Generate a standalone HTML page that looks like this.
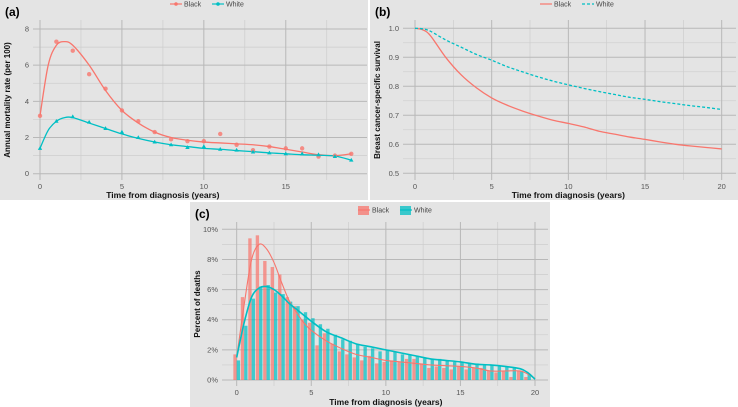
<!DOCTYPE html>
<html><head><meta charset="utf-8"><style>
body{margin:0;background:#fff;width:738px;height:407px;overflow:hidden;font-family:"Liberation Sans",sans-serif}
svg{position:absolute;left:0;top:0}
</style></head><body>
<svg id="s" width="738" height="407"></svg>
<script>
// ---- Panel (a) data
const aYears=[0,1,2,3,4,5,6,7,8,9,10,11,12,13,14,15,16,17,18,19];
const aBlackPts=[3.2,7.3,6.8,5.5,4.7,3.5,2.9,2.3,1.9,1.8,1.8,2.2,1.6,1.3,1.5,1.4,1.4,0.95,1.0,1.1];
const aWhitePts=[1.4,2.9,3.15,2.85,2.5,2.3,2.0,1.75,1.6,1.45,1.5,1.35,1.3,1.2,1.15,1.1,1.1,1.05,0.95,0.75];
const aFitX=[0,0.5,1,1.5,2,3,4,5,6,7,8,9,10,11,12,13,14,15,16,17,18,19];
const aBlackFit=[3.2,6.0,7.1,7.3,7.1,6.0,4.6,3.5,2.8,2.3,2.0,1.85,1.75,1.7,1.65,1.6,1.5,1.35,1.2,1.05,1.0,1.1];
const aWhiteFit=[1.4,2.4,2.9,3.1,3.1,2.8,2.5,2.2,1.95,1.75,1.6,1.5,1.4,1.35,1.28,1.22,1.15,1.1,1.05,1.02,0.98,0.75];
const aXTicks=[0,5,10,15];
const aYTicks=[0,2,4,6,8];
// ---- Panel (b) data
const bYears=[0,0.5,1,2,3,4,5,6,7,8,9,10,11,12,13,14,15,16,17,18,19,20];
const bBlack=[1,0.995,0.975,0.9,0.84,0.795,0.76,0.735,0.715,0.698,0.683,0.672,0.66,0.645,0.635,0.625,0.617,0.608,0.6,0.594,0.589,0.584];
const bWhite=[1,0.998,0.99,0.96,0.935,0.91,0.89,0.868,0.85,0.833,0.818,0.805,0.793,0.782,0.772,0.762,0.755,0.747,0.74,0.733,0.727,0.72];
const bXTicks=[0,5,10,15,20];
const bYTicks=[0.5,0.6,0.7,0.8,0.9,1.0];
// ---- Panel (c) data
const cBins=[0,0.5,1,1.5,2,2.5,3,3.5,4,4.5,5,5.5,6,6.5,7,7.5,8,8.5,9,9.5,10,10.5,11,11.5,12,12.5,13,13.5,14,14.5,15,15.5,16,16.5,17,17.5,18,18.5,19,19.5];
const cBlack=[1.7,5.5,9.4,9.6,7.9,7.5,7.0,5.5,4.9,4.0,3.8,2.3,3.1,2.4,1.9,1.7,1.5,1.3,1.6,1.1,1.2,1.3,1.2,1.4,1.4,1.1,0.8,0.9,0.8,0.7,0.9,0.7,0.8,0.8,0.6,0.5,0.6,0.2,0.6,0.2];
const cWhite=[1.3,3.6,5.4,6.2,6.3,5.8,5.7,5.2,4.9,4.5,4.1,3.7,3.4,3.0,2.7,2.6,2.4,2.2,2.1,1.9,2.0,1.9,1.7,1.7,1.6,1.5,1.4,1.4,1.3,1.2,1.2,1.1,1.1,1.0,1.0,0.9,0.9,0.8,0.6,0.4];
const cDensX=[0,0.5,1,1.5,2,2.5,3,3.5,4,4.5,5,6,7,8,9,10,11,12,13,14,15,16,17,18,19,19.5,20];
const cBlackDens=[1.5,5,8,9.0,8.7,7.8,6.5,5.3,4.5,3.8,3.3,2.6,2.1,1.7,1.5,1.3,1.2,1.1,1.0,0.95,0.9,0.8,0.6,0.6,0.6,0.4,0.1];
const cWhiteDens=[1.5,3.8,5.5,6.1,6.2,6.0,5.6,5.1,4.7,4.3,3.9,3.2,2.8,2.4,2.2,2.0,1.8,1.6,1.4,1.3,1.2,1.05,1.0,0.9,0.75,0.5,0.05];
const cXTicks=[0,5,10,15,20];
const cYTicks=[0,2,4,6,8,10];

const NS="http://www.w3.org/2000/svg";
const svg=document.getElementById('s');
const RED="#f8766d",TEAL="#00bfc4";
function el(tag,attrs,parent,txt){const e=document.createElementNS(NS,tag);for(const k in attrs)e.setAttribute(k,attrs[k]);if(txt!==undefined)e.textContent=txt;(parent||svg).appendChild(e);return e;}
function lin(d0,d1,r0,r1){return v=>r0+(v-d0)/(d1-d0)*(r1-r0);}
function smooth(pts){let d=`M${pts[0][0]},${pts[0][1]}`;for(let i=0;i<pts.length-1;i++){const p0=pts[i-1]||pts[i],p1=pts[i],p2=pts[i+1],p3=pts[i+2]||p2;d+=`C${p1[0]+(p2[0]-p0[0])/6},${p1[1]+(p2[1]-p0[1])/6} ${p2[0]-(p3[0]-p1[0])/6},${p2[1]-(p3[1]-p1[1])/6} ${p2[0]},${p2[1]}`;}return d;}

function panel(name,bx,by,bw,bh,px0,px1,py0,py1,xs,ys,xTicks,yTicks,xMinor,yMinor,yFmt,ytitle,label,tickY,titleY){
  const g=el('g',{},svg);
  
  
  el('rect',{x:bx,y:by,width:bw,height:bh,fill:'#e4e4e4'},g);
  xMinor.forEach(v=>el('line',{x1:xs(v),x2:xs(v),y1:py0,y2:py1,stroke:'#cdcdcd','stroke-width':0.7},g));
  yMinor.forEach(v=>el('line',{x1:px0,x2:px1,y1:ys(v),y2:ys(v),stroke:'#cdcdcd','stroke-width':0.7},g));
  xTicks.forEach(v=>{el('line',{x1:xs(v),x2:xs(v),y1:py0,y2:py1,stroke:'#b8b8b8','stroke-width':1},g);
    const t=el('text',{x:xs(v),y:tickY,'font-size':7.5,fill:'#555','text-anchor':'middle'},g,v);});
  yTicks.forEach(v=>{el('line',{x1:px0,x2:px1,y1:ys(v),y2:ys(v),stroke:'#b8b8b8','stroke-width':1},g);
    const t=el('text',{x:px0-4,y:ys(v)+2.5,'font-size':7.5,fill:'#555','text-anchor':'end'},g,yFmt(v));});
  const xt=el('text',{x:(xs(xTicks[0])+xs(xTicks[xTicks.length-1]))/2,y:titleY,'font-size':8.5,'font-weight':'bold',fill:'#111','text-anchor':'middle'},g,'Time from diagnosis (years)');
  
  const cy=(py0+py1)/2;
  const yt=el('text',{x:bx+10,y:cy,'font-size':8,'font-weight':'bold',fill:'#111','text-anchor':'middle',transform:`rotate(-90 ${bx+10} ${cy})`},g,ytitle);
  
  const lb=el('text',{x:bx+5,y:by+16,'font-size':12,'font-weight':'bold',fill:'#000'},g,label);
  
  return g;
}
function legend(g,x,y,items){
  items.forEach((it,i)=>{
    const lx=x+i*42;
    if(it.box){el('rect',{x:lx,y:y-4,width:11,height:9,fill:it.c,opacity:0.75},g);}
    el('line',{x1:lx,x2:lx+12,y1:y,y2:y,stroke:it.c,'stroke-width':1.2,'stroke-dasharray':it.dash||''},g);
    if(it.pt)el('circle',{cx:lx+6,cy:y,r:1.8,fill:it.c},g);
    const t=el('text',{x:lx+14,y:y+2.5,'font-size':7,fill:'#444'},g,it.n);
    
  });
}
// Panel A
{
const xs=lin(0,19,40,351.3), ys=lin(0,8,173.7,29);
const g=panel('panel-a-mortality',0,0,368,200,33,367,20,180,xs,ys,aXTicks,aYTicks,[2.5,7.5,12.5,17.5],[1,3,5,7],v=>v,'Annual mortality rate (per 100)','(a)',189,198);
[[aBlackFit,RED,'black'],[aWhiteFit,TEAL,'white']].forEach(([arr,c,n])=>{
  const p=el('path',{d:smooth(aFitX.map((x,i)=>[xs(x),ys(arr[i])])),fill:'none',stroke:c,'stroke-width':1.3},g);
  });
aYears.forEach((x,i)=>{
  const c=el('circle',{cx:xs(x),cy:ys(aBlackPts[i]),r:2.2,fill:RED,opacity:0.8},g);
  
  const t=el('path',{d:`M${xs(x)},${ys(aWhitePts[i])-2.3}l2.2,3.8h-4.4z`,fill:TEAL},g);
  });
legend(g,170,4,[{n:'Black',c:RED,pt:1},{n:'White',c:TEAL,pt:1}]);
}
// Panel B
{
const xs=lin(0,20,415,721.7), ys=lin(0.5,1,173.3,28.3);
const g=panel('panel-b-survival',370,0,368,200,403,736,20,180,xs,ys,bXTicks,bYTicks,[2.5,7.5,12.5,17.5],[0.55,0.65,0.75,0.85,0.95],v=>v.toFixed(1),'Breast cancer-specific survival','(b)',189,198);
const p1=el('path',{d:smooth(bYears.map((x,i)=>[xs(x),ys(bBlack[i])])),fill:'none',stroke:RED,'stroke-width':1.3},g);

const p2=el('path',{d:smooth(bYears.map((x,i)=>[xs(x),ys(bWhite[i])])),fill:'none',stroke:TEAL,'stroke-width':1.3,'stroke-dasharray':'3,2'},g);

legend(g,540,4,[{n:'Black',c:RED},{n:'White',c:TEAL,dash:'3,2'}]);
}
// Panel C
{
const xs=lin(0,20,236.7,535), ys=lin(0,10,380,229.3);
const g=panel('panel-c-deaths',190,202,360,205,222,548,222,386,xs,ys,cXTicks,cYTicks,[2.5,7.5,12.5,17.5],[1,3,5,7,9],v=>v+'%','Percent of deaths','(c)',395,405);
const bw=(xs(0.5)-xs(0))/2*0.9;
cBins.forEach((b,i)=>{
  const x0=xs(b);
  const r1=el('rect',{x:x0-bw,y:ys(cBlack[i]),width:bw,height:ys(0)-ys(cBlack[i]),fill:RED,opacity:0.72},g);
  
  const r2=el('rect',{x:x0,y:ys(cWhite[i]),width:bw,height:ys(0)-ys(cWhite[i]),fill:TEAL,opacity:0.72},g);
  });
const d1=el('path',{d:smooth(cDensX.map((x,i)=>[xs(x),ys(cBlackDens[i])])),fill:'none',stroke:RED,'stroke-width':1.1},g);

const d2=el('path',{d:smooth(cDensX.map((x,i)=>[xs(x),ys(cWhiteDens[i])])),fill:'none',stroke:TEAL,'stroke-width':1.6},g);

legend(g,358,210,[{n:'Black',c:RED,box:1},{n:'White',c:TEAL,box:1}]);
}
</script>
</body></html>
